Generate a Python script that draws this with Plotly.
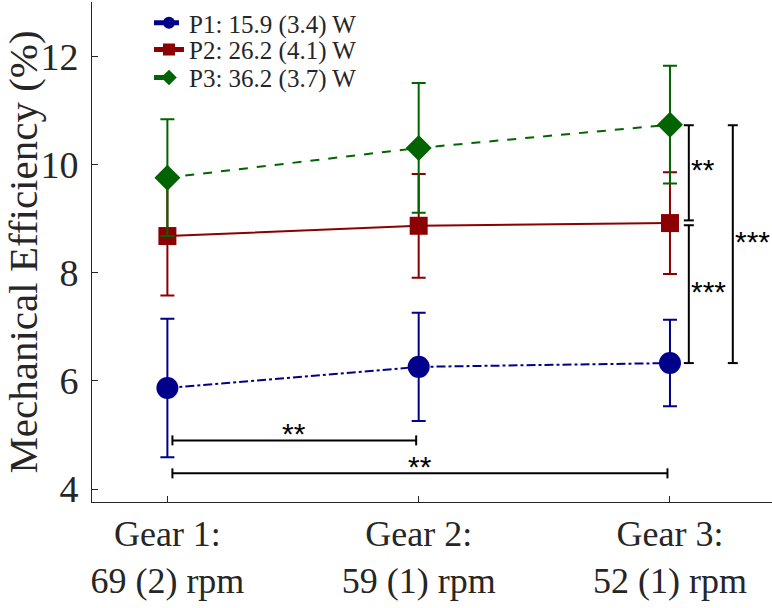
import plotly.graph_objects as go

# ---------------- data ----------------
gear_pos = [1, 2, 3]
gear_labels = ["Gear 1:<br>69 (2) rpm", "Gear 2:<br>59 (1) rpm", "Gear 3:<br>52 (1) rpm"]

p1_mean = [5.87, 6.26, 6.33]
p1_sd = [1.28, 1.00, 0.80]
p2_mean = [8.68, 8.87, 8.92]
p2_sd = [1.10, 0.96, 0.94]
p3_mean = [9.76, 10.31, 10.74]
p3_sd = [1.08, 1.20, 1.09]

series_names = ["P1: 15.9 (3.4) W", "P2: 26.2 (4.1) W", "P3: 36.2 (3.7) W"]
y_ticks = [4, 6, 8, 10, 12]

# significance brackets between gears (horizontal): x0, x1, y, label
gear_brackets = [(1.02, 1.99, 4.90, "**"), (1.02, 2.99, 4.29, "**")]
# significance brackets between power levels at gear 3 (vertical): x, y0, y1, label
power_brackets = [(3.075, 8.97, 10.73, "**"), (3.075, 6.33, 8.88, "***"), (3.25, 6.33, 10.73, "***")]

# ---------------- styles ----------------
FONT = "Liberation Serif, Times New Roman, serif"
C1, C2, C3 = "#00008B", "#8B0000", "#006400"
PLOT_H = 502  # plot area height in px (for legend row placement)
legend_rows_px = [21, 48, 76]

fig = go.Figure()

def add_series(mean, sd, name, color, dash, symbol, size, legend):
    fig.add_trace(go.Scatter(
        x=gear_pos, y=mean, name=name, mode="lines+markers",
        line=dict(color=color, width=2, dash=dash),
        marker=dict(symbol=symbol, size=size, color=color, line=dict(width=0)),
        error_y=dict(type="data", array=sd, color=color, thickness=2, width=7),
        legend=legend,
    ))

add_series(p1_mean, p1_sd, series_names[0], C1, "dashdot", "circle", 22, "legend")
add_series(p2_mean, p2_sd, series_names[1], C2, "solid", "square", 18, "legend2")
add_series(p3_mean, p3_sd, series_names[2], C3, "dash", "diamond", 20, "legend3")

shapes = []
annotations = []
BL = dict(color="black", width=2)
STAR_FONT = dict(family="Liberation Sans, Arial", size=30, color="black")
for x0, x1, y, lab in gear_brackets:
    shapes.append(dict(type="line", xref="x", yref="y", x0=x0, x1=x1, y0=y, y1=y, line=BL))
    for xv in (x0, x1):
        shapes.append(dict(type="line", xref="x", yref="y", x0=xv, x1=xv,
                           ysizemode="pixel", yanchor=y, y0=-5, y1=5, line=BL))
    annotations.append(dict(x=(x0 + x1) / 2, y=y, xref="x", yref="y", text=lab,
                            showarrow=False, yanchor="middle", yshift=7, font=STAR_FONT))
for x, y0, y1, lab in power_brackets:
    shapes.append(dict(type="line", xref="x", yref="y", x0=x, x1=x, y0=y0, y1=y1, line=BL))
    for yv in (y0, y1):
        shapes.append(dict(type="line", xref="x", yref="y", y0=yv, y1=yv,
                           xsizemode="pixel", xanchor=x, x0=-5, x1=5, line=BL))
    annotations.append(dict(x=x, y=(y0 + y1) / 2, xref="x", yref="y", text=lab,
                            showarrow=False, xanchor="left", yanchor="middle", xshift=0,
                            yshift=3, font=STAR_FONT))

def leg(row_px):
    return dict(x=0.0838, y=1 - row_px / PLOT_H, xanchor="left", yanchor="middle",
                bgcolor="rgba(0,0,0,0)", itemsizing="constant",
                font=dict(family=FONT, size=25, color="#262626"))

fig.update_layout(
    width=772, height=608,
    margin=dict(l=92, r=0, t=0, b=106),
    paper_bgcolor="white", plot_bgcolor="white",
    font=dict(family=FONT, color="#262626"),
    showlegend=True,
    legend=leg(legend_rows_px[0]),
    legend2=leg(legend_rows_px[1]),
    legend3=leg(legend_rows_px[2]),
    shapes=shapes, annotations=annotations,
)
fig.update_xaxes(
    range=[0.70, 3.406], tickmode="array", tickvals=gear_pos, ticktext=gear_labels,
    showline=True, linecolor="#262626", linewidth=1, mirror=False,
    ticks="inside", ticklen=6, tickcolor="#262626",
    tickfont=dict(family=FONT, size=36, color="#262626"),
    showgrid=False, zeroline=False,
)
fig.update_yaxes(
    range=[3.76, 13.01], tickmode="array", tickvals=y_ticks,
    showline=True, linecolor="#262626", linewidth=1, mirror=False,
    ticks="inside", ticklen=6, tickcolor="#262626", ticklabelstandoff=5,
    tickfont=dict(family=FONT, size=38, color="#262626"),
    title=dict(text="Mechanical Efficiency (%)", font=dict(family=FONT, size=41, color="#262626"), standoff=2),
    showgrid=False, zeroline=False,
)

fig.write_html("out.html")
